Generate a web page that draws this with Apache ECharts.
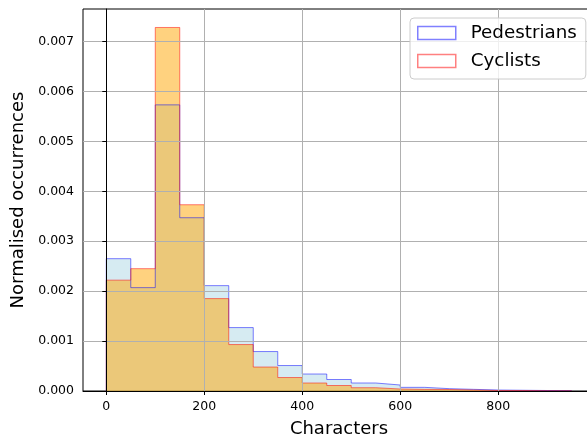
<!DOCTYPE html>
<html>
<head>
<meta charset="utf-8">
<script src="https://cdn.jsdelivr.net/npm/echarts@6/dist/echarts.min.js"></script>
<style>html,body{margin:0;padding:0;background:#fff}#c{width:587px;height:439px}</style>
</head>
<body>
<div id="c"></div>
<script>
// bin edges (width 50) from 0 to 950
var binEdges = [0,50,100,150,200,250,300,350,400,450,500,550,600,650,700,750,800,850,900,950];
// normalised occurrences per bin
var pedestrians = [0.00265,0.00207,0.00573,0.00347,0.00211,0.00127,0.00079,0.00051,0.00034,0.00023,0.00016,0.00012,0.000073,0.000047,0.000033,0.00002,0.000015,0.00001,0.000004];
var cyclists    = [0.00222,0.00245,0.00728,0.00373,0.00185,0.00093,0.00048,0.00027,0.00016,0.00011,0.000066,0.00004,0.000033,0.00003,0.00002,0.00001,0.00001,0.000005,0.000003];
var xTicks = [0,200,400,600,800];
var yTicks = [0,0.001,0.002,0.003,0.004,0.005,0.006,0.007];
var seriesNames = ['Pedestrians','Cyclists'];

function stepPoints(vals){
  var pts = [[binEdges[0],0]];
  for (var i=0;i<vals.length;i++) pts.push([binEdges[i], vals[i]]);
  pts.push([binEdges[vals.length], 0]);
  return pts;
}
var font = 'DejaVu Sans';
var chart = echarts.init(document.getElementById('c'), null, {renderer:'canvas'});
chart.setOption({
  animation:false,
  backgroundColor:'#fff',
  grid:{left:83, top:9, width:512, height:382, show:true, borderColor:'#000', borderWidth:1,
        backgroundColor:'transparent', outerBoundsMode:'none', containLabel:false},
  xAxis:{
    type:'value', min:-47.5, max:997.5, zlevel:1,
    name:'Characters', nameLocation:'middle', nameGap:29,
    nameTextStyle:{fontFamily:font, fontSize:18, color:'#000'},
    axisLine:{show:true, onZero:false, lineStyle:{color:'#000', width:1}},
    axisTick:{show:true, length:4, customValues:xTicks, lineStyle:{color:'#000'}},
    axisLabel:{customValues:xTicks, fontFamily:font, fontSize:12.5, color:'#000', margin:9},
    splitLine:{show:true, lineStyle:{color:'#b0b0b0', width:1}}
  },
  yAxis:{
    type:'value', min:0, max:0.00765, zlevel:1,
    name:'Normalised occurrences', nameLocation:'middle', nameGap:53,
    nameTextStyle:{fontFamily:font, fontSize:18, color:'#000'},
    axisLine:{show:true, lineStyle:{color:'#000', width:1}},
    axisTick:{show:true, length:4, customValues:yTicks, lineStyle:{color:'#000'}},
    axisLabel:{customValues:yTicks, fontFamily:font, fontSize:12.5, color:'#000', margin:9,
      formatter:function(v){return v.toFixed(3);}},
    splitLine:{show:true, lineStyle:{color:'#b0b0b0', width:1}}
  },
  legend:{
    orient:'vertical', left:410, top:18, zlevel:2,
    backgroundColor:'rgba(255,255,255,0.8)', borderColor:'#cccccc', borderWidth:1, borderRadius:4,
    padding:[6,9,9,7], itemWidth:38, itemHeight:13, itemGap:10, icon:'rect',
    textStyle:{fontFamily:font, fontSize:18.3, color:'#000', padding:[0,0,0,10]},
    data:[
      {name:seriesNames[0], itemStyle:{color:'#ffffff', borderColor:'#8080ff', borderWidth:1.5}},
      {name:seriesNames[1], itemStyle:{color:'#ffffff', borderColor:'#ff8080', borderWidth:1.5}}
    ]
  },
  series:[
    {name:seriesNames[0], type:'line', step:'end', symbol:'none', z:1,
     data:stepPoints(pedestrians),
     itemStyle:{color:'#8080ff'},
     lineStyle:{color:'#0000ff', opacity:0.5, width:1},
     areaStyle:{color:'#add8e6', opacity:0.5}},
    {name:seriesNames[1], type:'line', step:'end', symbol:'none', z:1,
     data:stepPoints(cyclists),
     itemStyle:{color:'#ff8080'},
     lineStyle:{color:'#ff0000', opacity:0.5, width:1},
     areaStyle:{color:'#ffa500', opacity:0.5}}
  ]
});
</script>
</body>
</html>
